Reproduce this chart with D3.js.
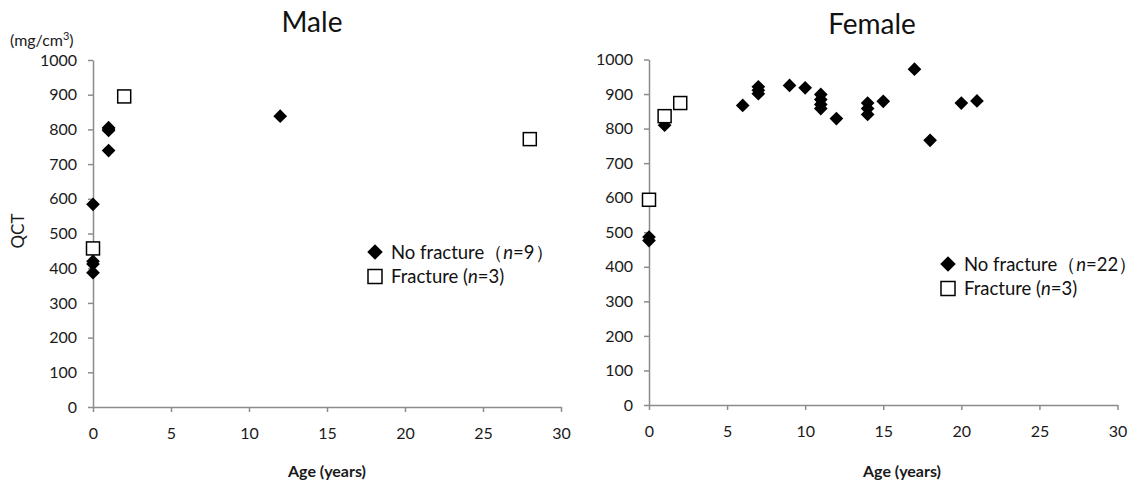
<!DOCTYPE html>
<html>
<head>
<meta charset="utf-8">
<script src="https://cdn.jsdelivr.net/npm/d3@7"></script>
<style>
  body { margin: 0; background: #fff; }
  svg { display: block; font-family: Lato, "Noto Sans", sans-serif; }
  .axis path, .axis line { stroke: #8c8c8c; stroke-width: 1.5; }
  .axis text { font-size: 16px; fill: #1a1a1a; font-family: Lato, sans-serif; }
</style>
</head>
<body>
<div id="chart"></div>
<script>
// 数据
const xTicks = [0, 5, 10, 15, 20, 25, 30];
const yTicks = [0, 100, 200, 300, 400, 500, 600, 700, 800, 900, 1000];

const maleNoFxAge = [0, 0, 0, 0, 1, 1, 1, 1, 12];
const maleNoFxQct = [584, 420, 412, 387, 805, 801, 797, 739, 838];
const maleFxAge = [0, 2, 28];
const maleFxQct = [457, 895, 772];

const femaleNoFxAge = [0, 0, 1, 6, 7, 7, 7, 9, 10, 11, 11, 11, 11, 12, 14, 14, 14, 15, 17, 18, 20, 21];
const femaleNoFxQct = [486, 476, 810, 867, 921, 911, 901, 925, 918, 899, 884, 870, 858, 829, 874, 858, 841, 879, 972, 766, 874, 880];
const femaleFxAge = [0, 1, 2];
const femaleFxQct = [594, 836, 874];

const width = 1140, height = 481;

const svg = d3.select('#chart').append('svg')
    .attr('width', width)
    .attr('height', height);

// 面板布局
const panels = [
    {
        title: 'Male', titleX: 312, titleY: 32,
        x0: 93, x1: 561, y0: 407, y1: 60,
        noFx: d3.zip(maleNoFxAge, maleNoFxQct),
        fx: d3.zip(maleFxAge, maleFxQct),
        n: [9, 3],
        legendX: 375, legendY: 252,
        ageX: 327
    },
    {
        title: 'Female', titleX: 872, titleY: 34,
        x0: 649, x1: 1117.5, y0: 405, y1: 59.5,
        noFx: d3.zip(femaleNoFxAge, femaleNoFxQct),
        fx: d3.zip(femaleFxAge, femaleFxQct),
        n: [22, 3],
        legendX: 948, legendY: 264,
        ageX: 902
    }
];

const diamond = size => d3.symbol(d3.symbolSquare, size)();

panels.forEach(p => {
    const x = d3.scaleLinear().domain([0, 30]).range([p.x0, p.x1]);
    const y = d3.scaleLinear().domain([0, 1000]).range([p.y0, p.y1]);

    const g = svg.append('g');

    // 坐标轴
    g.append('g')
        .attr('class', 'axis')
        .attr('transform', `translate(0,${p.y0})`)
        .call(d3.axisBottom(x).tickValues(xTicks).tickSize(5).tickSizeOuter(0).tickPadding(16));

    g.append('g')
        .attr('class', 'axis')
        .attr('transform', `translate(${p.x0},0)`)
        .call(d3.axisLeft(y).tickValues(yTicks).tickFormat(d3.format('d'))
            .tickSize(5).tickSizeOuter(0).tickPadding(11));

    // 标题
    g.append('text')
        .attr('x', p.titleX)
        .attr('y', p.titleY)
        .attr('text-anchor', 'middle')
        .style('font-size', '28px')
        .attr('fill', '#111')
        .text(p.title);

    // x轴标题
    g.append('text')
        .attr('x', p.ageX)
        .attr('y', 477)
        .attr('text-anchor', 'middle')
        .style('font-size', '16px')
        .style('font-weight', 'bold')
        .attr('fill', '#1a1a1a')
        .text('Age (years)');

    // 无骨折：菱形
    g.append('g').selectAll('path')
        .data(p.noFx)
        .join('path')
        .attr('d', diamond(94))
        .attr('transform', d => `translate(${x(d[0])},${y(d[1])}) rotate(45)`)
        .attr('fill', '#000');

    // 骨折：空心方块
    g.append('g').selectAll('rect')
        .data(p.fx)
        .join('rect')
        .attr('x', d => x(d[0]) - 6.5)
        .attr('y', d => y(d[1]) - 6.5)
        .attr('width', 13)
        .attr('height', 13)
        .attr('fill', '#fff')
        .attr('stroke', '#000')
        .attr('stroke-width', 1.5);

    // 图例
    const lg = g.append('g').attr('transform', `translate(${p.legendX},${p.legendY})`);
    lg.append('path')
        .attr('d', diamond(120))
        .attr('transform', 'rotate(45)')
        .attr('fill', '#000');
    lg.append('rect')
        .attr('x', -7).attr('y', 17.5)
        .attr('width', 14).attr('height', 14)
        .attr('fill', '#fff')
        .attr('stroke', '#000')
        .attr('stroke-width', 1.5);

    const t1 = lg.append('text')
        .attr('x', 16).attr('y', 6.5)
        .style('font-size', '18.5px')
        .attr('fill', '#111');
    t1.append('tspan').text('No fracture（');
    t1.append('tspan').style('font-style', 'italic').text('n');
    t1.append('tspan').text(`=${p.n[0]}）`);

    const t2 = lg.append('text')
        .attr('x', 16).attr('y', 31)
        .style('font-size', '18.5px')
        .attr('fill', '#111');
    t2.append('tspan').text('Fracture (');
    t2.append('tspan').style('font-style', 'italic').text('n');
    t2.append('tspan').text(`=${p.n[1]})`);
});

// y轴标签
svg.append('text')
    .attr('x', 10)
    .attr('y', 46)
    .style('font-size', '16px')
    .attr('fill', '#1a1a1a')
    .html('(mg/cm<tspan dy="-6" style="font-size:11px">3</tspan><tspan dy="6">)</tspan>');

svg.append('text')
    .attr('transform', 'translate(24,231) rotate(-90)')
    .attr('text-anchor', 'middle')
    .style('font-size', '17px')
    .attr('fill', '#1a1a1a')
    .text('QCT');
</script>
</body>
</html>
